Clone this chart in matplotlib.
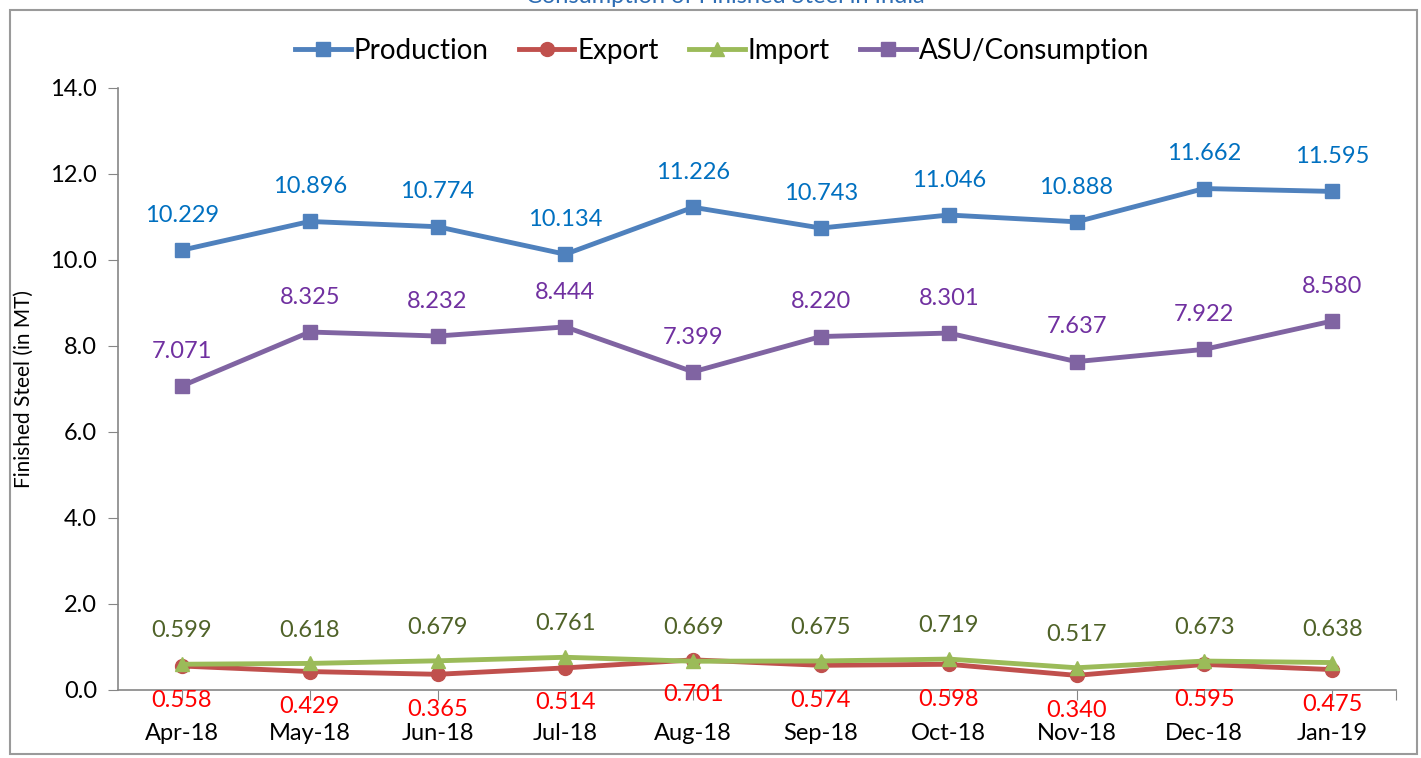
import matplotlib
matplotlib.use("Agg")
import matplotlib.pyplot as plt
from matplotlib.patches import Rectangle

plt.rcParams["font.family"] = ["Lato", "DejaVu Sans"]

months = ["Apr-18", "May-18", "Jun-18", "Jul-18", "Aug-18",
          "Sep-18", "Oct-18", "Nov-18", "Dec-18", "Jan-19"]
production = [10.229, 10.896, 10.774, 10.134, 11.226, 10.743, 11.046, 10.888, 11.662, 11.595]
export = [0.558, 0.429, 0.365, 0.514, 0.701, 0.574, 0.598, 0.340, 0.595, 0.475]
imports = [0.599, 0.618, 0.679, 0.761, 0.669, 0.675, 0.719, 0.517, 0.673, 0.638]
consumption = [7.071, 8.325, 8.232, 8.444, 7.399, 8.220, 8.301, 7.637, 7.922, 8.580]
y_ticks = [0, 2, 4, 6, 8, 10, 12, 14]

W, H = 1421, 758
fig = plt.figure(figsize=(W / 100, H / 100), dpi=100)
ax = fig.add_axes([118 / W, 1 - 690 / H, (1396 - 118) / W, (690 - 88) / H])

x = list(range(len(months)))

# series: (values, line colour, marker, label colour, label offset in points, name)
series = [
    (production, "#4F81BD", "s", "#0070C0", 25, "Production"),
    (export, "#C0504D", "o", "#FF0000", -25, "Export"),
    (imports, "#9BBB59", "^", "#4F6228", 24, "Import"),
    (consumption, "#8064A2", "s", "#7030A0", 25, "ASU/Consumption"),
]

for vals, col, mk, lcol, off, name in series:
    ax.plot(x, vals, color=col, marker=mk, markersize=10, linewidth=3.5,
            label=name, clip_on=False)
    for xi, v in zip(x, vals):
        ax.annotate(f"{v:.3f}", (xi, v), xytext=(0, off), textcoords="offset points",
                    ha="center", va="center", fontsize=17, color=lcol,
                    annotation_clip=False)

ax.set_xlim(-0.5, 9.5)
ax.set_ylim(0, 14)
ax.set_yticks(y_ticks)
ax.set_yticklabels([f"{t:.1f}" for t in y_ticks], fontsize=17)
ax.set_xticks(x + [9.5])
ax.set_xticklabels(months + [""], fontsize=17)
ax.tick_params(axis="x", length=7, color="#868686", pad=17)
ax.tick_params(axis="y", length=7, color="#868686", pad=8)

for s in ["top", "right"]:
    ax.spines[s].set_visible(False)
for s in ["left", "bottom"]:
    ax.spines[s].set_color("#868686")
    ax.spines[s].set_linewidth(1.2)

ax.set_ylabel("Finished Steel (in MT)", fontsize=15, labelpad=12)

ax.legend(loc="center", bbox_to_anchor=(722 / W, 1 - 51 / H), bbox_transform=fig.transFigure,
          ncol=4, frameon=False, fontsize=20, handlelength=2.0, handletextpad=0.1,
          columnspacing=1.1)

# outer chart border and clipped title
fig.patches.append(Rectangle((10 / W, 4 / H), (W - 14) / W, (H - 14) / H,
                             transform=fig.transFigure, fill=False,
                             edgecolor="#9a9a9a", linewidth=1.5))
fig.text(725 / W, 1 - 3 / H, "Consumption of Finished Steel in India",
         ha="center", va="baseline", fontsize=17, color="#2E6DB4")

fig.savefig("out.png", dpi=100)
